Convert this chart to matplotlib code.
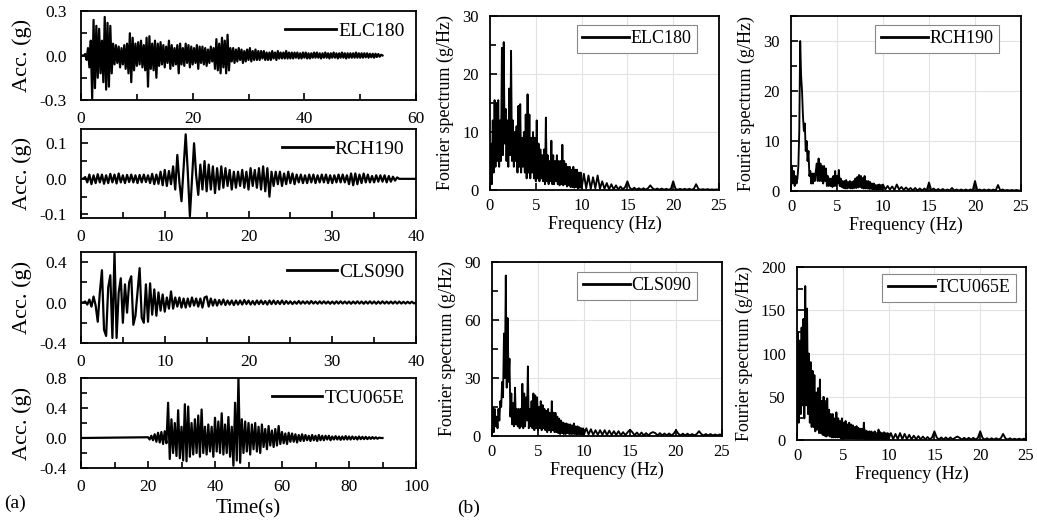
import numpy as np
import matplotlib
matplotlib.use("Agg")
import matplotlib.pyplot as plt
from matplotlib.ticker import MultipleLocator, FormatStrFormatter

plt.rcParams['font.family'] = ['Liberation Serif', 'DejaVu Serif']
plt.rcParams['axes.unicode_minus'] = False

# ---------------- time histories (acc in g) ----------------
names = ["ELC180", "RCH190", "CLS090", "TCU065E"]

elc_dt = 0.25
elc_acc = [
    0, 0, 0, 0.01,
    -0.03, 0.05, -0.08, 0.10,
    -0.29, 0.24, -0.22, 0.20,
    -0.15, 0.18, -0.12, 0.10,
    -0.18, 0.26, -0.23, 0.22,
    -0.21, 0.20, -0.12, 0.08,
    -0.06, 0.07, -0.05, 0.06,
    -0.08, 0.05, -0.06, 0.07,
    -0.09, 0.08, -0.12, 0.15,
    -0.18, 0.12, -0.10, 0.08,
    -0.07, 0.09, -0.06, 0.10,
    -0.08, 0.07, -0.10, 0.12,
    -0.21, 0.13, -0.09, 0.08,
    -0.10, 0.10, -0.15, 0.08,
    -0.07, 0.09, -0.06, 0.07,
    -0.08, 0.06, -0.05, 0.10,
    -0.09, 0.07, -0.07, 0.05,
    -0.06, 0.07, -0.12, 0.08,
    -0.06, 0.05, -0.07, 0.08,
    -0.05, 0.07, -0.08, 0.06,
    -0.06, 0.05, -0.05, 0.07,
    -0.09, 0.06, -0.05, 0.06,
    -0.06, 0.05, -0.07, 0.04,
    -0.05, 0.06, -0.04, 0.05,
    -0.09, 0.11, -0.10, 0.08,
    -0.12, 0.12, -0.08, 0.10,
    -0.12, 0.14, -0.10, 0.05,
    -0.04, 0.05, -0.05, 0.04,
    -0.04, 0.05, -0.03, 0.04,
    -0.05, 0.03, -0.04, 0.04,
    -0.03, 0.05, -0.04, 0.03,
    -0.03, 0.04, -0.03, 0.03,
    -0.03, 0.03, -0.02, 0.03,
    -0.03, 0.02, -0.03, 0.02,
    -0.03, 0.03, -0.02, 0.02,
    -0.03, 0.03, -0.02, 0.02,
    -0.02, 0.02, -0.02, 0.03,
    -0.02, 0.02, -0.02, 0.02,
    -0.02, 0.02, -0.015, 0.02,
    -0.02, 0.015, -0.02, 0.02,
    -0.015, 0.02, -0.02, 0.015,
    -0.02, 0.015, -0.015, 0.02,
    -0.015, 0.02, -0.015, 0.015,
    -0.02, 0.015, -0.015, 0.02,
    -0.015, 0.015, -0.02, 0.015,
    -0.015, 0.02, -0.015, 0.015,
    -0.02, 0.015, -0.015, 0.02,
    -0.015, 0.015, -0.02, 0.015,
    -0.015, 0.015, -0.015, 0.015,
    -0.015, 0.02, -0.015, 0.015,
    -0.015, 0.015, -0.015, 0.015,
    -0.012, 0.015, -0.015, 0.012,
    -0.012, 0.012, -0.015, 0.012,
    -0.01, 0.01, -0.008, 0.005,
    0,
]

rch_dt = 0.25
rch_acc = [
    0, 0, 0.005, -0.01,
    0.012, -0.015, 0.01, -0.012,
    0.013, -0.01, 0.012, -0.014,
    0.01, -0.012, 0.014, -0.01,
    0.012, -0.013, 0.015, -0.01,
    0.01, -0.012, 0.011, -0.009,
    0.012, -0.01, 0.01, -0.012,
    0.011, -0.01, 0.012, -0.009,
    0.01, -0.012, 0.014, -0.015,
    0.012, -0.014, 0.02, -0.018,
    0.025, -0.02, 0.022, -0.015,
    0.035, -0.03, 0.067, -0.01,
    -0.063, 0.03, 0.125, 0.02,
    -0.105, 0.0, 0.10, 0.01,
    -0.045, 0.04, -0.03, 0.05,
    -0.035, 0.04, -0.03, 0.035,
    -0.04, 0.03, -0.03, 0.035,
    -0.025, 0.03, -0.02, 0.025,
    -0.03, 0.02, -0.025, 0.02,
    -0.02, 0.025, -0.025, 0.02,
    -0.03, 0.03, -0.02, 0.025,
    -0.025, 0.03, -0.03, 0.035,
    -0.035, 0.03, -0.05, 0.02,
    -0.02, 0.02, -0.015, 0.02,
    -0.02, 0.015, -0.015, 0.02,
    -0.012, 0.015, -0.015, 0.012,
    -0.01, 0.012, -0.012, 0.01,
    -0.012, 0.012, -0.01, 0.012,
    -0.012, 0.01, -0.01, 0.012,
    -0.01, 0.012, -0.012, 0.01,
    -0.012, 0.01, -0.01, 0.012,
    -0.01, 0.012, -0.01, 0.01,
    -0.015, 0.015, -0.018, 0.015,
    -0.015, 0.012, -0.012, 0.015,
    -0.01, 0.012, -0.01, 0.008,
    -0.01, 0.01, -0.008, 0.01,
    -0.008, 0.01, -0.01, 0.008,
    -0.008, 0.006, -0.005, 0.004,
    0, 0, 0, 0,
    0, 0, 0, 0,
    0,
]

cls_dt = 0.25
cls_acc = [
    0, 0, 0.01, -0.02,
    0.03, -0.04, 0.06, -0.03,
    -0.19, 0.10, 0.32, -0.27,
    -0.33, 0.15, 0.27, -0.35,
    0.50, -0.35, 0.10, 0.24,
    -0.20, 0.18, -0.10, 0.20,
    0.26, -0.22, -0.13, 0.10,
    0.34, -0.15, -0.20, 0.18,
    -0.19, 0.19, -0.12, 0.13,
    -0.13, 0.10, -0.08, 0.08,
    -0.09, 0.05, -0.06, 0.11,
    -0.06, 0.05, -0.04, 0.05,
    -0.05, 0.04, -0.05, 0.04,
    -0.04, 0.05, -0.03, 0.04,
    -0.04, 0.04, -0.05, 0.05,
    0.06, -0.04, 0.04, -0.03,
    0.03, -0.03, 0.025, -0.02,
    0.03, -0.025, 0.02, -0.02,
    0.02, -0.025, 0.02, -0.02,
    0.02, -0.02, 0.025, -0.015,
    0.02, -0.02, 0.015, -0.02,
    0.02, -0.015, 0.02, -0.015,
    0.015, -0.02, 0.02, -0.015,
    0.02, -0.015, 0.015, -0.015,
    0.02, -0.015, 0.015, -0.012,
    0.012, -0.015, 0.01, -0.012,
    0.015, -0.012, 0.012, -0.01,
    0.012, -0.012, 0.015, -0.01,
    0.01, -0.012, 0.012, -0.01,
    0.012, -0.01, 0.01, -0.012,
    0.01, -0.012, 0.012, -0.01,
    0.012, -0.01, 0.01, -0.01,
    0.01, -0.012, 0.01, -0.01,
    0.012, -0.01, 0.01, -0.012,
    0.01, -0.01, 0.012, -0.01,
    0.01, -0.012, 0.01, -0.01,
    0.012, -0.01, 0.01, -0.01,
    0.01, -0.01, 0.01, -0.01,
    0.01, -0.01, 0.008, -0.01,
    0.008, -0.008, 0.008, -0.008,
    0,
]

tcu_start = 20.0
tcu_dt = 0.5
tcu_acc = [
    0.01, -0.02, 0.03, -0.03, 0.05, -0.05, 0.07, -0.06, 0.08, -0.08,
    0.09, -0.07, 0.47, -0.28, 0.25, -0.20, 0.20, -0.24, 0.37, -0.27,
    0.15, -0.30, 0.45, -0.31, 0.42, -0.25, 0.20, -0.22, 0.25, -0.20,
    0.30, -0.25, 0.38, -0.20, 0.15, -0.22, 0.18, -0.18, 0.15, -0.25,
    0.27, -0.18, 0.22, -0.20, 0.33, -0.22, 0.18, -0.20, 0.28, -0.25,
    0.15, -0.37, 0.47, -0.30, 0.80, -0.33, 0.25, -0.20, 0.22, -0.18,
    0.20, -0.22, 0.18, -0.15, 0.20, -0.18, 0.15, -0.20, 0.18, -0.12,
    0.12, -0.15, 0.16, -0.10, 0.10, -0.12, 0.12, -0.10, 0.16, -0.08,
    0.08, -0.07, 0.06, -0.08, 0.07, -0.05, 0.06, -0.05, 0.05, -0.06,
    0.04, -0.04, 0.05, -0.04, 0.04, -0.03, 0.03, -0.04, 0.04, -0.03,
    0.03, -0.04, 0.04, -0.03, 0.03, -0.03, 0.03, -0.02, 0.03, -0.03,
    0.02, -0.02, 0.025, -0.02, 0.02, -0.025, 0.02, -0.02, 0.025, -0.02,
    0.02, -0.02, 0.02, -0.015, 0.015, -0.02, 0.02, -0.015, 0.015, -0.015,
    0.015, -0.015, 0.012, -0.012, 0.012, -0.01, 0.01, -0.01, 0.005, 0.0,
    0.0,
]

# ---------------- Fourier spectra (g/Hz) ----------------
# 0-9.9 Hz every 0.1 Hz, then 10-25 Hz every 0.25 Hz
elc_fs = [
    0, 8, 1, 12, 3, 15.5, 4, 15, 5, 15.5,
    4, 12, 5, 24.5, 6, 25.5, 8, 14, 5, 12,
    4, 17.5, 6, 24, 5, 12, 4, 10, 5, 11,
    3, 14.5, 4, 14.8, 3, 9, 4, 10, 3, 13,
    2, 16.5, 3, 13, 2, 9, 3, 10, 2, 9,
    1.5, 12, 2, 8, 1.5, 7, 2, 6, 1.5, 7,
    1, 12.5, 1.5, 6, 1, 5, 1.5, 8.5, 1, 6,
    1, 5, 1.5, 6, 1, 5, 0.8, 5, 1, 7.8,
    0.8, 5, 1, 4.5, 0.6, 4, 0.8, 4, 0.5, 3.5,
    0.5, 4, 0.4, 3.5, 0.5, 3.5, 0.3, 3, 0.4, 3,
    0.3, 2.8, 0.3, 2.5, 0.2, 2.2, 0.3, 2.5,
    0.2, 1.5, 0.2, 1.2, 0.1, 1.0, 0.1, 0.8,
    0.1, 0.6, 0.1, 0.5, 1.5, 0.4, 0.05, 0.4,
    0.05, 0.3, 0.05, 0.3, 0.05, 0.3, 0.8, 0.3,
    0.05, 0.25, 0.05, 0.25, 0.05, 0.2, 0.05, 0.2,
    1.5, 0.2, 0.05, 0.2, 0.05, 0.2, 0.05, 0.2,
    0.05, 0.2, 1.0, 0.2, 0.05, 0.15, 0.05, 0.15,
    0.05, 0.1, 0.05, 0.1, 0.05,
]

rch_fs = [
    1, 5, 1.5, 4, 1, 3, 1.5, 2.5, 5, 12,
    30, 23, 20, 15, 12, 13.5, 8, 10, 6, 8,
    3, 4, 1.5, 3.5, 1.5, 3.5, 2, 4, 5.5, 2,
    6.5, 2, 5.5, 2, 5, 1.5, 5, 2, 4.5, 1,
    3, 1, 2.5, 1, 2.5, 0.8, 3, 1, 4, 1,
    3, 1.5, 4.2, 1, 2.5, 0.8, 2, 0.6, 2, 0.5,
    2.2, 0.5, 1.8, 0.6, 2, 0.5, 1.8, 0.5, 2, 0.6,
    2.5, 0.6, 2.8, 0.7, 3.2, 0.8, 3, 0.6, 2.6, 0.5,
    3, 0.5, 2, 0.5, 2, 0.4, 1.8, 0.4, 1.5, 0.3,
    1.5, 0.3, 1.2, 0.3, 1.2, 0.3, 1.3, 0.3, 1.2, 0.3,
    1.3, 0.3, 1.0, 0.3, 0.9, 0.2, 1.3, 0.3,
    0.8, 0.2, 0.7, 0.2, 0.6, 0.1, 0.6, 0.1,
    0.5, 0.1, 0.5, 0.1, 1.7, 0.1, 0.5, 0.1,
    0.4, 0.1, 0.4, 0.1, 0.3, 0.1, 0.6, 0.1,
    0.3, 0.1, 0.3, 0.1, 0.3, 0.1, 0.3, 0.1,
    2.0, 0.1, 0.3, 0.1, 0.3, 0.1, 0.3, 0.1,
    0.3, 0.1, 1.2, 0.1, 0.3, 0.1, 0.2, 0.1,
    0.2, 0.1, 0.2, 0.1, 0.1,
]

cls_fs = [
    0, 15, 2, 14, 5, 10, 4, 14, 8, 18,
    15, 28, 20, 53, 30, 83, 25, 61, 28, 40,
    10, 22, 6, 17, 5, 25, 6, 14, 5, 14,
    4, 14, 5, 27, 4, 22, 5, 20, 8, 36,
    4, 14, 5, 18, 4, 22, 3, 21, 4, 20,
    3, 15, 4, 18, 3, 16, 4, 14, 3, 13,
    2, 14, 3, 12, 2, 18, 3, 12, 2, 12,
    2, 10, 1.5, 9, 1, 8, 1.5, 7, 1, 6.5,
    1, 6.5, 1.5, 6, 1, 6, 1, 5.5, 1, 6.5,
    1, 5, 0.8, 5, 1, 4.5, 0.8, 4, 0.8, 4,
    0.8, 4, 0.8, 3.5, 0.6, 3, 0.6, 3,
    0.6, 3, 0.5, 2.8, 0.5, 2.5, 0.5, 2.5,
    0.4, 2, 0.4, 2, 3.2, 2, 0.4, 1.8,
    0.3, 1.8, 0.3, 1.5, 0.3, 1.5, 2.0, 1.5,
    0.3, 1.5, 0.3, 1.3, 0.3, 1.3, 0.3, 1.2,
    3.0, 1.2, 0.3, 1.2, 0.3, 1.2, 0.3, 1.0,
    0.3, 1.0, 2.5, 1.0, 0.3, 1.0, 0.3, 1.0,
    0.3, 0.8, 0.3, 0.8, 0.5,
]

tcu_fs = [
    0, 125, 20, 115, 30, 130, 40, 140, 25, 178,
    40, 152, 30, 100, 20, 90, 15, 80, 15, 75,
    10, 55, 12, 60, 8, 70, 8, 45, 6, 50,
    5, 45, 4, 48, 5, 35, 4, 30, 3, 30,
    3, 25, 3, 32, 3, 25, 3, 22, 2, 25,
    2, 20, 2, 22, 2, 18, 2, 20, 2, 18,
    2, 17, 2, 15, 1.5, 16, 1.5, 14, 1.5, 13,
    1.5, 13, 1.5, 20, 1, 11, 1, 10, 1, 10,
    1, 10, 1, 9, 1, 10, 1, 8, 1, 12,
    1, 9, 1, 8, 1, 9, 1, 8, 1, 8,
    1, 8, 1, 7, 1, 8, 1, 7,
    1, 6, 0.8, 5, 0.8, 4.5, 0.8, 4,
    0.6, 3.5, 0.6, 3, 10, 3, 0.5, 3,
    0.5, 3, 0.5, 3, 0.5, 2.5, 4, 2.5,
    0.5, 2.5, 0.5, 2.5, 0.5, 2.5, 0.5, 2.5,
    10, 2.5, 0.5, 2, 0.5, 2, 0.5, 2,
    0.5, 2, 7, 2, 0.5, 2, 0.5, 1.5,
    0.5, 1.5, 0.5, 1.5, 1,
]

freq = np.concatenate([np.arange(100) * 0.1, 10 + np.arange(61) * 0.25])

# ---------------- figure ----------------
W, H = 1037, 525
fig = plt.figure(figsize=(W / 100, H / 100), dpi=100)

def rect(x0, y0, x1, y1):
    return [x0 / W, 1 - y1 / H, (x1 - x0) / W, (y1 - y0) / H]

time_rects = [rect(81, 11, 416, 100), rect(81, 129, 416, 218),
              rect(81, 252, 416, 343), rect(81, 378, 416, 468)]
spec_rects = [rect(490, 16, 719, 190), rect(791, 16, 1021, 191),
              rect(492, 262, 722, 436), rect(797, 267, 1026, 440)]
spec_leg_anchor = [(0.904, 0.948), (0.904, 0.949), (0.891, 0.943), (0.956, 0.96)]

time_series = [
    (np.arange(len(elc_acc)) * elc_dt, elc_acc),
    (np.arange(len(rch_acc)) * rch_dt, rch_acc),
    (np.arange(len(cls_acc)) * cls_dt, cls_acc),
    (np.r_[0.0, tcu_start + np.arange(len(tcu_acc)) * tcu_dt], np.r_[0.0, tcu_acc]),
]
time_xlim = [(0, 60), (0, 40), (0, 40), (0, 100)]
time_xmaj = [20, 10, 10, 20]
time_xmin = [10, 5, 5, 10]
time_ylim = [(-0.3, 0.3), (-0.11, 0.14), (-0.4, 0.5), (-0.4, 0.8)]
time_yticks = [[-0.3, 0.0, 0.3], [-0.1, 0.0, 0.1], [-0.4, 0.0, 0.4], [-0.4, 0.0, 0.4, 0.8]]
time_ymin = [0.15, 0.05, 0.2, 0.2]

for i in range(4):
    ax = fig.add_axes(time_rects[i])
    t, a = time_series[i]
    ax.plot(t, a, color='black', lw=1.6, label=names[i])
    ax.set_xlim(*time_xlim[i])
    ax.set_ylim(*time_ylim[i])
    ax.xaxis.set_major_locator(MultipleLocator(time_xmaj[i]))
    ax.xaxis.set_minor_locator(MultipleLocator(time_xmin[i]))
    ax.set_yticks(time_yticks[i])
    ax.yaxis.set_minor_locator(MultipleLocator(time_ymin[i]))
    ax.yaxis.set_major_formatter(FormatStrFormatter('%.1f'))
    ax.tick_params(which='both', direction='in', labelsize=12.5, width=1.2)
    ax.tick_params(which='major', length=5)
    ax.tick_params(which='minor', length=4)
    ax.tick_params(axis='x', pad=8)
    ax.tick_params(axis='y', pad=10)
    for s in ax.spines.values():
        s.set_linewidth(1.3)
    ax.set_ylabel('Acc. (g)', fontsize=16)
    ax.yaxis.set_label_coords(-0.147, 0.5)
    leg = ax.legend(loc='upper right', frameon=False, fontsize=14,
                    handlelength=2.6, handletextpad=0.1, borderaxespad=0.2)
    for ln in leg.get_lines():
        ln.set_linewidth(2.0)
    if i == 3:
        ax.set_xlabel('Time(s)', fontsize=15, labelpad=3)

spec_series = [elc_fs, rch_fs, cls_fs, tcu_fs]
spec_ylim = [30, 35, 90, 200]
spec_ymaj = [10, 10, 30, 50]
spec_ymin = [5, 5, 15, 25]

for i in range(4):
    ax = fig.add_axes(spec_rects[i])
    ax.plot(freq, spec_series[i], color='black', lw=1.35, label=names[i])
    ax.set_xlim(0, 25)
    ax.set_ylim(0, spec_ylim[i])
    ax.xaxis.set_major_locator(MultipleLocator(5))
    ax.yaxis.set_major_locator(MultipleLocator(spec_ymaj[i]))
    ax.yaxis.set_minor_locator(MultipleLocator(spec_ymin[i]))
    ax.grid(True, which='major', color='#e2e2e2', lw=0.8)
    ax.set_axisbelow(True)
    ax.tick_params(which='both', direction='in', labelsize=12, width=1.2)
    ax.tick_params(which='major', length=5)
    ax.tick_params(which='minor', length=4)
    ax.tick_params(axis='x', pad=6)
    ax.tick_params(axis='y', pad=8)
    for s in ax.spines.values():
        s.set_linewidth(1.3)
    ax.set_xlabel('Frequency (Hz)', fontsize=13, labelpad=1)
    ax.set_ylabel('Fourier spectrum (g/Hz)', fontsize=13, labelpad=6)
    leg = ax.legend(loc='upper right', bbox_to_anchor=spec_leg_anchor[i],
                    borderaxespad=0, fontsize=13, fancybox=False,
                    edgecolor='#888888', framealpha=1, handlelength=2.6,
                    handletextpad=0.1, borderpad=0.3)
    leg.get_frame().set_linewidth(0.8)
    for ln in leg.get_lines():
        ln.set_linewidth(2.0)

fig.text(4 / W, 1 - 503 / H, '(a)', fontsize=14, va='center', ha='left')
fig.text(457 / W, 1 - 508 / H, '(b)', fontsize=14, va='center', ha='left')

fig.savefig('out.png', dpi=100)
